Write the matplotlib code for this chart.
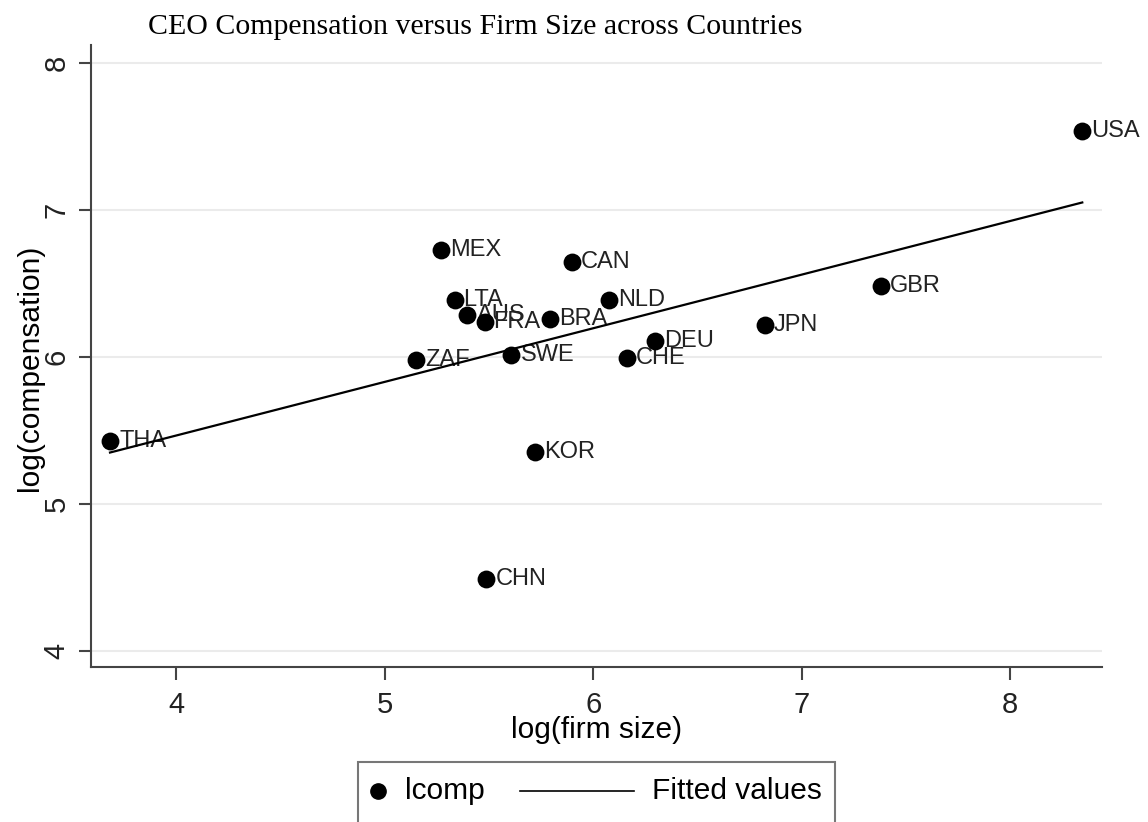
import numpy as np
import matplotlib
matplotlib.use("Agg")
import matplotlib.pyplot as plt
from matplotlib.lines import Line2D
from matplotlib.patches import Rectangle

# country data
countries = ["USA", "GBR", "JPN", "DEU", "CHE", "NLD", "CAN", "BRA", "MEX",
             "LTA", "AUS", "FRA", "SWE", "ZAF", "THA", "KOR", "CHN"]
lsize = [8.345, 7.38, 6.823, 6.295, 6.16, 6.074, 5.896, 5.795, 5.272,
         5.335, 5.397, 5.479, 5.608, 5.152, 3.683, 5.723, 5.488]
lcomp = [7.537, 6.483, 6.218, 6.109, 5.993, 6.388, 6.646, 6.259, 6.728,
         6.388, 6.286, 6.238, 6.014, 5.98, 5.429, 5.354, 4.49]

x_ticks = [4, 5, 6, 7, 8]
y_ticks = [4, 5, 6, 7, 8]

plt.rcParams['font.family'] = ['Liberation Sans', 'DejaVu Sans']

W, H = 1148, 822
fig = plt.figure(figsize=(W / 100, H / 100), dpi=100)
ax = fig.add_axes([0.0793, 0.1886, 0.8807, 0.7564])

x = np.array(lsize)
y = np.array(lcomp)

# fitted values (OLS)
b, a = np.polyfit(x, y, 1)
xf = np.array([x.min(), x.max()])
ax.plot(xf, a + b * xf, color='black', lw=1.6, zorder=3)

ax.scatter(x, y, s=165, color='black', zorder=4, linewidths=0)
for c, xi, yi in zip(countries, x, y):
    ax.annotate(c, (xi, yi), xytext=(6.5, 0), textcoords='offset points',
                va='center', ha='left', fontsize=17, color='#222222', zorder=2)

ax.set_xlim(3.592, 8.44)
ax.set_ylim(3.89, 8.12)
ax.set_xticks(x_ticks)
ax.set_yticks(y_ticks)
ax.tick_params(axis='both', labelsize=21, length=9, width=1.5, color='#444444',
               labelcolor='#222222')
ax.tick_params(axis='x', pad=8)
ax.tick_params(axis='y', pad=5.8)
for lab in ax.get_yticklabels():
    lab.set_rotation(90)
    lab.set_va('center')
ax.yaxis.grid(True, color='#ebebeb', lw=1.5)
ax.set_axisbelow(True)
for s in ['top', 'right']:
    ax.spines[s].set_visible(False)
for s in ['left', 'bottom']:
    ax.spines[s].set_color('#444444')
    ax.spines[s].set_linewidth(1.5)

ax.set_xlabel("log(firm size)", fontsize=21.5, labelpad=-1.7)
ax.set_ylabel("log(compensation)", fontsize=21.5)
ax.yaxis.set_label_coords(-0.0465, 0.481)

fig.text(148 / W, 1 - 34 / H, "CEO Compensation versus Firm Size across Countries",
         family='Liberation Serif', fontsize=21.5, va='baseline', ha='left')

# legend box below the plot (runs off the bottom edge like the original)
tf = fig.transFigure
fig.patches.append(Rectangle((358 / W, -0.05), 477 / W, (1 - 762 / H) + 0.05,
                             transform=tf, facecolor='white', edgecolor='#777777',
                             lw=1.5, clip_on=False))
ly = 1 - 791 / H
fig.lines.append(Line2D([378 / W], [ly], transform=tf, marker='o', color='black',
                        ls='none', markersize=11))
fig.text(405 / W, ly, "lcomp", fontsize=21.5, va='center', ha='left')
fig.lines.append(Line2D([520 / W, 634 / W], [ly, ly], transform=tf, color='black', lw=1.2))
fig.text(652 / W, ly, "Fitted values", fontsize=21.5, va='center', ha='left')

fig.savefig("out.png", dpi=100, facecolor='white')
